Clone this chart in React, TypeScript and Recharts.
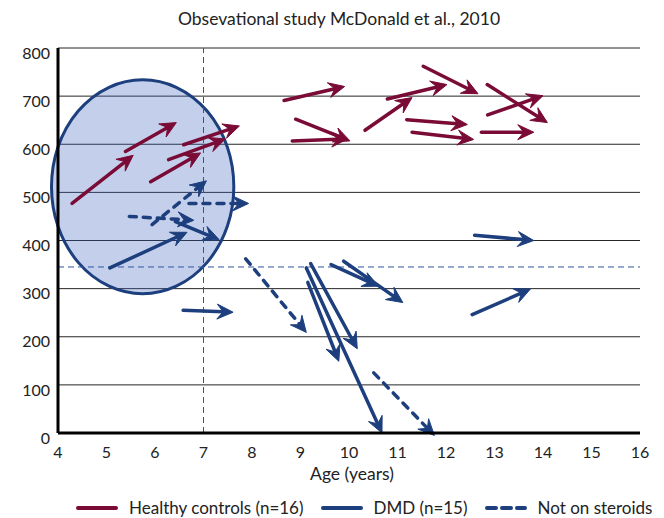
import React from "react";
import {
  ComposedChart,
  XAxis,
  YAxis,
  CartesianGrid,
  ReferenceLine,
  ReferenceArea,
} from "recharts";

// [startAge, startDistance, endAge, endDistance]
const healthyControls: number[][] = [
  [4.29, 477, 5.55, 577],
  [5.39, 585, 6.44, 645],
  [5.91, 522, 6.94, 582],
  [6.28, 568, 7.45, 611],
  [6.59, 599, 7.74, 638],
  [8.66, 691, 9.91, 720],
  [8.9, 652, 10.02, 607],
  [8.83, 607, 9.97, 611],
  [10.33, 629, 11.3, 697],
  [10.79, 694, 12.02, 724],
  [11.53, 762, 12.66, 705],
  [11.19, 651, 12.44, 641],
  [11.3, 625, 12.57, 610],
  [12.85, 724, 14.09, 645],
  [12.86, 661, 14.0, 701],
  [12.73, 625, 13.81, 625],
];

const dmdOnSteroids: number[][] = [
  [6.42, 439, 7.32, 402],
  [5.07, 343, 6.66, 417],
  [6.58, 255, 7.61, 251],
  [9.15, 313, 9.79, 149],
  [9.21, 352, 10.17, 175],
  [9.12, 343, 10.68, 0],
  [9.63, 350, 10.61, 305],
  [9.89, 357, 11.11, 271],
  [12.59, 411, 13.81, 400],
  [12.54, 246, 13.74, 299],
];

const dmdNotOnSteroids: number[][] = [
  [5.47, 450, 6.8, 442],
  [5.94, 433, 7.06, 524],
  [6.7, 477, 7.93, 477],
  [7.87, 362, 9.12, 209],
  [10.51, 125, 11.76, -5],
];

const xTicks = [4, 5, 6, 7, 8, 9, 10, 11, 12, 13, 14, 15, 16];
const yTicks = [0, 100, 200, 300, 400, 500, 600, 700, 800];

// highlighted ellipse region (age range, distance range)
const ellipseAge = [3.866, 7.625];
const ellipseDistance = [289.5, 734];
const steroidAgeLine = 7;
const thresholdDistance = 345;

const legendItems = [
  { label: "Healthy controls (n=16)", color: "#7a0b36", dashed: false },
  { label: "DMD (n=15)", color: "#1d3f7e", dashed: false },
  { label: "Not on steroids", color: "#1d3f7e", dashed: true },
];

const RED = "#7a0b36";
const BLUE = "#1d3f7e";
const GUIDE_BLUE = "#2e54a0";
const FONT = "Lato, 'Noto Sans', sans-serif";

const makeArrowShape = (color: string, dashed: boolean) => (props: any) => {
  const { x1, y1, x2, y2 } = props;
  if ([x1, y1, x2, y2].some((v) => typeof v !== "number" || isNaN(v))) return <g />;
  const dx = x2 - x1;
  const dy = y2 - y1;
  const len = Math.sqrt(dx * dx + dy * dy) || 1;
  const ux = dx / len;
  const uy = dy / len;
  const nx = -uy;
  const ny = ux;
  const L = 16;
  const W = 7.5;
  const N = 10;
  const bx = x2 - L * ux;
  const by = y2 - L * uy;
  const pts = [
    [x2, y2],
    [bx + W * nx, by + W * ny],
    [x2 - N * ux, y2 - N * uy],
    [bx - W * nx, by - W * ny],
  ]
    .map((p) => `${p[0]},${p[1]}`)
    .join(" ");
  return (
    <g>
      <line
        x1={x1}
        y1={y1}
        x2={x2 - N * ux}
        y2={y2 - N * uy}
        stroke={color}
        strokeWidth={3.5}
        strokeLinecap="round"
        strokeDasharray={dashed ? "7 7" : undefined}
      />
      <polygon points={pts} fill={color} stroke={color} strokeWidth={1} strokeLinejoin="miter" />
    </g>
  );
};

const EllipseShape = (props: any) => {
  const { x, y, width, height } = props;
  if ([x, y, width, height].some((v) => typeof v !== "number" || isNaN(v))) return <g />;
  return (
    <ellipse
      cx={x + width / 2}
      cy={y + height / 2}
      rx={Math.abs(width) / 2}
      ry={Math.abs(height) / 2}
      fill="rgb(60,100,190)"
      fillOpacity={0.3}
      stroke={BLUE}
      strokeWidth={3}
    />
  );
};

const tickStyle = { fontFamily: FONT, fontSize: 16, fill: "#222" };

export default function App() {
  return (
    <div style={{ position: "absolute", left: 0, top: 0, width: 664, height: 518, background: "#fff", overflow: "hidden" }}>
      <div
        style={{
          position: "absolute",
          left: 0,
          top: 8,
          width: 678,
          textAlign: "center",
          fontFamily: FONT,
          fontSize: 17.5,
          color: "#222",
          whiteSpace: "nowrap",
        }}
      >
        Obsevational study McDonald et al., 2010
      </div>
      <ComposedChart
        width={664}
        height={518}
        data={[{ x: 4, y: 0 }, { x: 16, y: 800 }]}
        margin={{ top: 48, right: 24, bottom: 55, left: 8 }}
      >
        <ReferenceArea
          x1={ellipseAge[0]}
          x2={ellipseAge[1]}
          y1={ellipseDistance[0]}
          y2={ellipseDistance[1]}
          ifOverflow="visible"
          shape={EllipseShape}
        />
        <CartesianGrid vertical={false} stroke="#000" strokeWidth={1} strokeOpacity={0.85} />
        <XAxis
          type="number"
          dataKey="x"
          domain={[4, 16]}
          ticks={xTicks}
          interval={0}
          tickLine={false}
          axisLine={{ stroke: "#000", strokeWidth: 3 }}
          tick={{ ...tickStyle, dy: 3 }}
          tickMargin={5}
          height={30}
        />
        <YAxis
          type="number"
          dataKey="y"
          domain={[0, 800]}
          ticks={yTicks}
          interval={0}
          tickLine={false}
          axisLine={{ stroke: "#000", strokeWidth: 3 }}
          tick={{ ...tickStyle, dy: 5 }}
          tickMargin={2}
          width={50}
        />
        <ReferenceLine
          x={steroidAgeLine}
          stroke={GUIDE_BLUE}
          strokeWidth={1}
          strokeDasharray="6 4"
          ifOverflow="visible"
        />
        <ReferenceLine
          y={thresholdDistance}
          stroke={GUIDE_BLUE}
          strokeWidth={1}
          strokeDasharray="6 4"
          ifOverflow="visible"
        />
        {healthyControls.map((a, i) => (
          <ReferenceLine
            key={"h" + i}
            segment={[
              { x: a[0], y: a[1] },
              { x: a[2], y: a[3] },
            ]}
            ifOverflow="visible"
            shape={makeArrowShape(RED, false)}
          />
        ))}
        {dmdOnSteroids.map((a, i) => (
          <ReferenceLine
            key={"d" + i}
            segment={[
              { x: a[0], y: a[1] },
              { x: a[2], y: a[3] },
            ]}
            ifOverflow="visible"
            shape={makeArrowShape(BLUE, false)}
          />
        ))}
        {dmdNotOnSteroids.map((a, i) => (
          <ReferenceLine
            key={"n" + i}
            segment={[
              { x: a[0], y: a[1] },
              { x: a[2], y: a[3] },
            ]}
            ifOverflow="visible"
            shape={makeArrowShape(BLUE, true)}
          />
        ))}
      </ComposedChart>
      <div
        style={{
          position: "absolute",
          left: 0,
          top: 463,
          width: 704,
          textAlign: "center",
          fontFamily: FONT,
          fontSize: 17.5,
          color: "#222",
          whiteSpace: "nowrap",
        }}
      >
        Age (years)
      </div>
      <div
        style={{
          position: "absolute",
          left: 0,
          top: 497,
          display: "flex",
          alignItems: "center",
          fontFamily: FONT,
          fontSize: 17,
          color: "#222",
          whiteSpace: "nowrap",
        }}
      >
        {legendItems.map((it, i) => (
          <div key={i} style={{ display: "flex", alignItems: "center", marginLeft: i === 0 ? 76 : 17 }}>
            <svg width={42} height={8} style={{ marginRight: 11 }}>
              <line
                x1={2}
                y1={4}
                x2={40}
                y2={4}
                stroke={it.color}
                strokeWidth={4}
                strokeLinecap="round"
                strokeDasharray={it.dashed ? "9 6" : undefined}
              />
            </svg>
            <span>{it.label}</span>
          </div>
        ))}
      </div>
    </div>
  );
}
